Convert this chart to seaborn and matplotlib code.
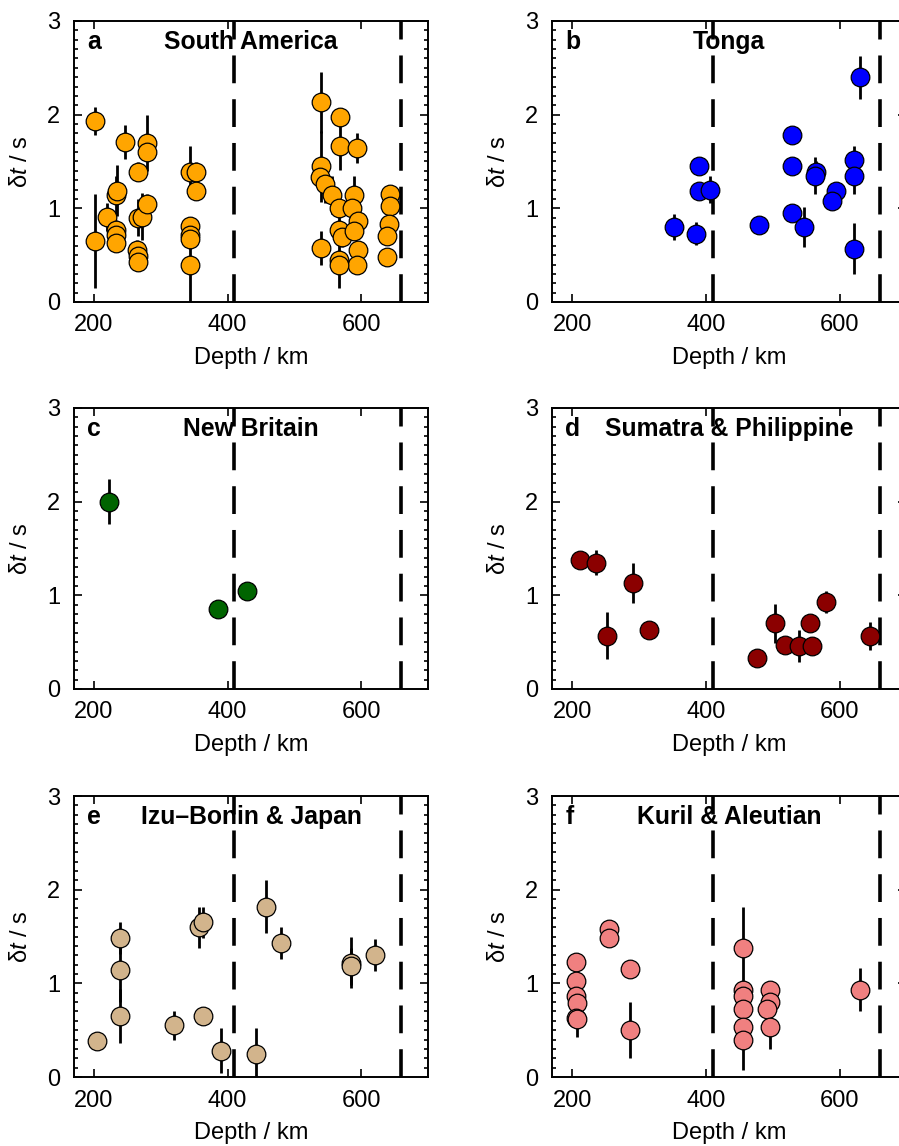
import matplotlib
matplotlib.use("Agg")
import matplotlib.pyplot as plt
import numpy as np
import pandas as pd
import seaborn as sns
from matplotlib.ticker import MultipleLocator

sns.set_style("white")
plt.rcParams['font.family'] = ['Liberation Sans', 'DejaVu Sans']
plt.rcParams['mathtext.fontset'] = 'custom'
plt.rcParams['mathtext.it'] = 'Liberation Sans:italic'
plt.rcParams['mathtext.rm'] = 'Liberation Sans'
plt.rcParams['lines.scale_dashes'] = False
for k in ['text.color', 'axes.labelcolor', 'xtick.color', 'ytick.color', 'axes.edgecolor']:
    plt.rcParams[k] = 'black'

# ---- data: depth (km), delay time (s), half error (s)
a_depth = [201, 201, 219, 233, 235, 233, 233, 233, 247, 266, 266, 272, 280, 280, 280,
           264, 266, 266, 344, 352, 352, 344, 344, 344, 344,
           540, 568, 568, 593, 540, 538, 546, 556, 566, 589, 586, 595, 566, 571, 589,
           595, 593, 566, 567, 540, 643, 643, 641, 639, 639]
a_dt = [1.93, 0.65, 0.91, 1.14, 1.19, 0.77, 0.71, 0.63, 1.71, 1.39, 0.90, 0.91, 1.70, 1.60, 1.05,
        0.56, 0.49, 0.43, 1.39, 1.39, 1.19, 0.81, 0.71, 0.67, 0.40,
        2.13, 1.98, 1.66, 1.64, 1.45, 1.33, 1.26, 1.14, 1.00, 1.14, 1.00, 0.86, 0.77, 0.69, 0.76,
        0.56, 0.39, 0.45, 0.40, 0.58, 1.15, 1.02, 0.83, 0.70, 0.48]
a_err = [0.15, 0.50, 0.15, 0.20, 0.27, 0.10, 0.10, 0.08, 0.18, 0.10, 0.20, 0.25, 0.30, 0.10, 0.10,
         0.10, 0.05, 0.05, 0.27, 0.10, 0.10, 0.10, 0.10, 0.10, 0.42,
         0.33, 0.05, 0.25, 0.16, 0.38, 0.15, 0.20, 0.20, 0.20, 0.20, 0.20, 0.10, 0.10, 0.10, 0.10,
         0.05, 0.05, 0.10, 0.25, 0.18, 0.05, 0.05, 0.05, 0.05, 0.05]

b_depth = [352, 385, 390, 390, 406, 479, 529, 529, 529, 546, 564, 563, 595, 588, 622, 621, 621, 630]
b_dt = [0.80, 0.73, 1.45, 1.19, 1.20, 0.82, 1.78, 1.45, 0.95, 0.80, 1.39, 1.35, 1.19, 1.08, 1.52, 1.35, 0.57, 2.40]
b_err = [0.14, 0.12, 0.05, 0.05, 0.14, 0.05, 0.08, 0.06, 0.06, 0.21, 0.12, 0.20, 0.05, 0.05, 0.14, 0.20, 0.27, 0.23]

c_depth = [222, 386, 429]
c_dt = [2.00, 0.85, 1.05]
c_err = [0.24, 0.03, 0.03]

d_depth = [211, 236, 291, 252, 315, 477, 504, 519, 539, 556, 559, 579, 646]
d_dt = [1.38, 1.35, 1.13, 0.57, 0.63, 0.33, 0.70, 0.47, 0.46, 0.70, 0.46, 0.93, 0.57]
d_err = [0.05, 0.13, 0.21, 0.25, 0.05, 0.05, 0.21, 0.05, 0.17, 0.05, 0.05, 0.12, 0.15]

e_depth = [205, 239, 239, 239, 319, 357, 363, 363, 390, 442, 458, 480, 585, 585, 620]
e_dt = [0.38, 1.48, 1.14, 0.65, 0.55, 1.60, 1.65, 0.65, 0.28, 0.25, 1.82, 1.43, 1.22, 1.18, 1.30]
e_err = [0.05, 0.17, 0.34, 0.29, 0.16, 0.22, 0.17, 0.05, 0.24, 0.27, 0.28, 0.17, 0.27, 0.20, 0.17]

f_depth = [206, 206, 206, 207, 206, 207, 255, 255, 286, 286,
           456, 456, 456, 456, 456, 456, 496, 496, 491, 496, 630]
f_dt = [1.23, 1.02, 0.86, 0.79, 0.63, 0.62, 1.58, 1.48, 1.15, 0.50,
        1.38, 0.93, 0.86, 0.73, 0.53, 0.40, 0.93, 0.80, 0.73, 0.53, 0.93]
f_err = [0.05, 0.05, 0.05, 0.05, 0.05, 0.19, 0.05, 0.05, 0.05, 0.30,
         0.43, 0.05, 0.05, 0.05, 0.05, 0.33, 0.05, 0.05, 0.05, 0.23, 0.23]

panels = [
    ("a", "South America", a_depth, a_dt, a_err, "#FFA500"),
    ("b", "Tonga", b_depth, b_dt, b_err, "#0000FF"),
    ("c", "New Britain", c_depth, c_dt, c_err, "#006400"),
    ("d", "Sumatra & Philippine", d_depth, d_dt, d_err, "#8B0000"),
    ("e", "Izu\u2013Bonin & Japan", e_depth, e_dt, e_err, "#D2B48C"),
    ("f", "Kuril & Aleutian", f_depth, f_dt, f_err, "#F08080"),
]

fig = plt.figure(figsize=(8.99, 11.46), dpi=100)
lefts = [0.0823, 0.6144]
bottoms = [0.7365, 0.3988, 0.0602]
W, H = 0.3938, 0.2452
fs = 17

for i, (tag, name, dep, dt, err, col) in enumerate(panels):
    ax = fig.add_axes([lefts[i % 2], bottoms[i // 2], W, H])
    df = pd.DataFrame({"depth": dep, "dt": dt, "err": err})
    ax.errorbar(df["depth"], df["dt"], yerr=df["err"], fmt="none",
                ecolor="black", elinewidth=2.0, capsize=0, zorder=2)
    sns.scatterplot(data=df, x="depth", y="dt", color=col, s=180,
                    edgecolor="black", linewidth=0.9, ax=ax, zorder=3,
                    legend=False)
    for xv in (410, 660):
        ax.axvline(xv, 0, 1, color="black", lw=2.6, dashes=(20, 11.5), zorder=1)

    ax.set_xlim(170, 700)
    ax.set_ylim(0, 3)
    ax.set_xticks([200, 400, 600])
    ax.set_yticks([0, 1, 2, 3])
    ax.yaxis.set_minor_locator(MultipleLocator(0.1))
    ax.tick_params(which="both", direction="in", top=True, right=True,
                   left=True, bottom=True, labelsize=fs, width=1.2,
                   color="black", labelcolor="black")
    ax.tick_params(which="major", length=6)
    ax.tick_params(which="minor", length=3.2)
    ax.tick_params(axis="x", which="minor", top=False, bottom=False)
    ax.tick_params(axis="x", pad=9)
    ax.tick_params(axis="y", pad=10)
    for sp in ax.spines.values():
        sp.set_linewidth(1.4)
        sp.set_color("black")

    ax.set_xlabel("Depth / km", fontsize=fs, color="black")
    ax.set_ylabel("\u03b4$\\it{t}$ / s", fontsize=fs, color="black")
    ax.xaxis.set_label_coords(0.5, -0.16)
    ax.yaxis.set_label_coords(-0.12, 0.5)

    ax.text(0.037, 0.925, tag, transform=ax.transAxes, ha="left", va="center",
            fontsize=17.8, fontweight="bold", color="black")
    ax.text(0.5, 0.925, name, transform=ax.transAxes, ha="center", va="center",
            fontsize=17.8, fontweight="bold", color="black")

fig.savefig("out.png", dpi=100)
